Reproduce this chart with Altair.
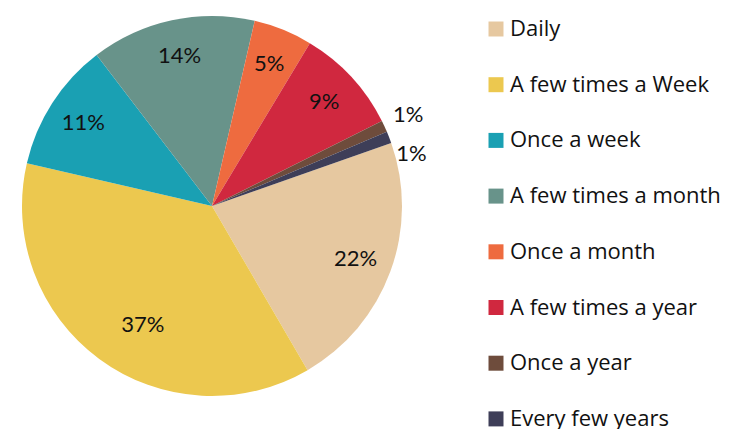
import math
import altair as alt
import pandas as pd

categories = ["Daily", "A few times a Week", "Once a week", "A few times a month",
              "Once a month", "A few times a year", "Once a year", "Every few years"]
percents = [22, 37, 11, 14, 5, 9, 1, 1]
colors = ["#E6C8A0", "#ECC84F", "#1AA0B3", "#68938A",
          "#EE6B3F", "#D0283F", "#6E4C3C", "#3E3E58"]

df = pd.DataFrame({
    "category": categories,
    "pct": percents,
    "idx": list(range(len(categories))),
})
df["label"] = df["pct"].astype(str) + "%"

start = math.radians(70.6)
theta_scale = alt.Scale(domain=[0, 100], range=[start, start + 2 * math.pi])

pie = alt.Chart(df).mark_arc(radius=190, stroke=None).encode(
    theta=alt.Theta("pct:Q", stack=True, scale=theta_scale),
    order=alt.Order("idx:Q"),
    color=alt.Color(
        "category:N",
        sort=categories,
        scale=alt.Scale(domain=categories, range=colors),
        legend=alt.Legend(
            title=None,
            orient="none",
            legendX=477,
            legendY=10,
            symbolType="square",
            symbolSize=225,
            symbolStrokeWidth=0,
            labelFont="Open Sans",
            labelFontSize=22,
            labelColor="#111111",
            labelOffset=3,
            rowPadding=33.7,
            labelLimit=400,
        ),
    ),
)

text_base = (
    alt.Chart(df)
    .transform_window(cum="sum(pct)", sort=[alt.SortField("idx")], frame=[None, 0])
    .transform_calculate(mid="datum.cum - datum.pct / 2")
)


def labels(test, radius, dx=0, dy=0, theta_offset=0.0):
    return text_base.transform_filter(test).mark_text(
        radius=radius, dx=dx, dy=dy, thetaOffset=theta_offset,
        font="Lato", fontSize=22, color="#111111",
    ).encode(
        theta=alt.Theta("mid:Q", scale=theta_scale),
        text="label:N",
    )


inner = labels("datum.pct >= 2 && datum.pct != 37", 153)
big = labels("datum.pct == 37", 138, theta_offset=-0.11)
once_year = labels("datum.category == 'Once a year'", 216)
few_years = labels("datum.category == 'Every few years'", 214, dy=25)

chart = alt.layer(pie, inner, big, once_year, few_years).properties(
    width=408, height=396, padding=0
).configure_view(stroke=None)

chart.save("out.html", embed_options={"renderer": "svg", "actions": False})
